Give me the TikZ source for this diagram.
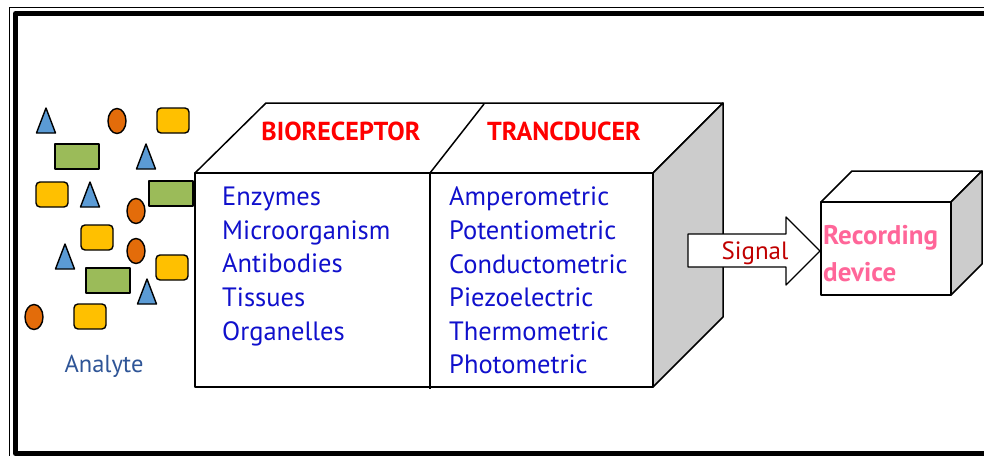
\documentclass[tikz,border=0pt]{standalone}
\usepackage{fontspec}
\setmainfont{PT Sans}
\definecolor{triblue}{HTML}{5B9BD5}
\definecolor{ellorange}{HTML}{E36C0A}
\definecolor{recyellow}{HTML}{FFC000}
\definecolor{recgreen}{HTML}{9BBB59}
\definecolor{facegray}{HTML}{CCCCCC}
\definecolor{txtblue}{HTML}{1010CC}
\definecolor{hdred}{HTML}{FF0000}
\definecolor{sigred}{HTML}{C00000}
\definecolor{recpink}{HTML}{FF6699}
\definecolor{analyteblue}{HTML}{2F5597}
\begin{document}
\begin{tikzpicture}[x=1pt,y=-1pt,line join=round,
  shp/.style={draw=black,line width=1.4pt},
  tri/.style={shp,fill=triblue},
  ell/.style={shp,fill=ellorange},
  yel/.style={shp,fill=recyellow,rounded corners=4pt},
  grn/.style={shp,fill=recgreen},
  boxline/.style={draw=black,line width=1.5pt},
  item/.style={anchor=base west,inner sep=0pt,font=\fontsize{26.5}{30}\selectfont,text=txtblue},
  hd/.style={anchor=base,inner sep=0pt,font=\bfseries\fontsize{26}{30}\selectfont,text=hdred},
  rec/.style={anchor=base west,inner sep=0pt,font=\bfseries\fontsize{27}{30}\selectfont,text=recpink}]
\useasboundingbox (0,0) rectangle (984,455);
\fill[white] (0,0) rectangle (984,455);
% frame
\draw[line width=1.2pt] (9.5,7.5) rectangle (1100,480);
\draw[line width=5pt] (15.5,13.5) rectangle (1000,453.5);
% analyte shapes
\foreach \x/\y in {46/108,146/144,90/182,65/244,147/279}
  \draw[tri] (\x,\y) -- ++(9.5,25) -- ++(-19,0) -- cycle;
\foreach \x/\y in {117/121,136/211,136/251,34/317}
  \draw[ell] (\x,\y) ellipse [x radius=9, y radius=12.5];
\foreach \x/\y in {157/108,36/182,81/225,156/255,74/304}
  \draw[yel] (\x,\y) rectangle ++(32,25);
\foreach \x/\y in {55/144,149/181,86/268}
  \draw[grn] (\x,\y) rectangle ++(44,25);
\node[anchor=base,inner sep=0pt,font=\fontsize{24.5}{28}\selectfont,text=analyteblue] (analyte) at (104,372) {Analyte};
% main box
\coordinate (A) at (195,173);
\coordinate (B) at (653,173);
\coordinate (C) at (653,387);
\coordinate (E) at (266,103);
\coordinate (F) at (723,103);
\coordinate (G) at (723,317);
\draw[boxline,fill=white] (A) -- (E) -- (F) -- (B) -- cycle;
\draw[boxline,fill=facegray] (B) -- (F) -- (G) -- (C) -- cycle;
\draw[boxline,fill=white] (A) rectangle (C);
\draw[boxline] (430,173) -- (430,389);
\draw[boxline] (430,173) -- (484,104);
\node[hd] (bio) at (341,140) {BIORECEPTOR};
\node[hd] (tra) at (564,140) {TRANCDUCER};
\node[item] (l1) at (222,205) {Enzymes};
\node[item] (l2) at (222,239) {Microorganism};
\node[item] (l3) at (222,272) {Antibodies};
\node[item] (l4) at (222,306) {Tissues};
\node[item] (l5) at (222,340) {Organelles};
\node[item] (r1) at (449,205) {Amperometric};
\node[item] (r2) at (449,239) {Potentiometric};
\node[item] (r3) at (449,273) {Conductometric};
\node[item] (r4) at (449,306) {Piezoelectric};
\node[item] (r5) at (449,340) {Thermometric};
\node[item] (r6) at (449,373) {Photometric};
% signal arrow
\draw[boxline,line width=1.3pt,fill=white] (688,234) -- (786,234) -- (786,217) -- (820,251) -- (786,285) -- (786,267) -- (688,267) -- cycle;
\node[anchor=base,inner sep=0pt,font=\fontsize{25}{30}\selectfont,text=sigred] (signal) at (755,259) {Signal};
% recording device
\draw[boxline,fill=white] (821,202) -- (852,171) -- (982,171) -- (951,202) -- cycle;
\draw[boxline,fill=facegray] (951,202) -- (982,171) -- (982,264) -- (951,295) -- cycle;
\draw[boxline,fill=white] (821,202) rectangle (951,295);
\node[rec] (rec1) at (823,244) {Recording};
\node[rec] (rec2) at (823,281) {device};
\end{tikzpicture}
\end{document}
